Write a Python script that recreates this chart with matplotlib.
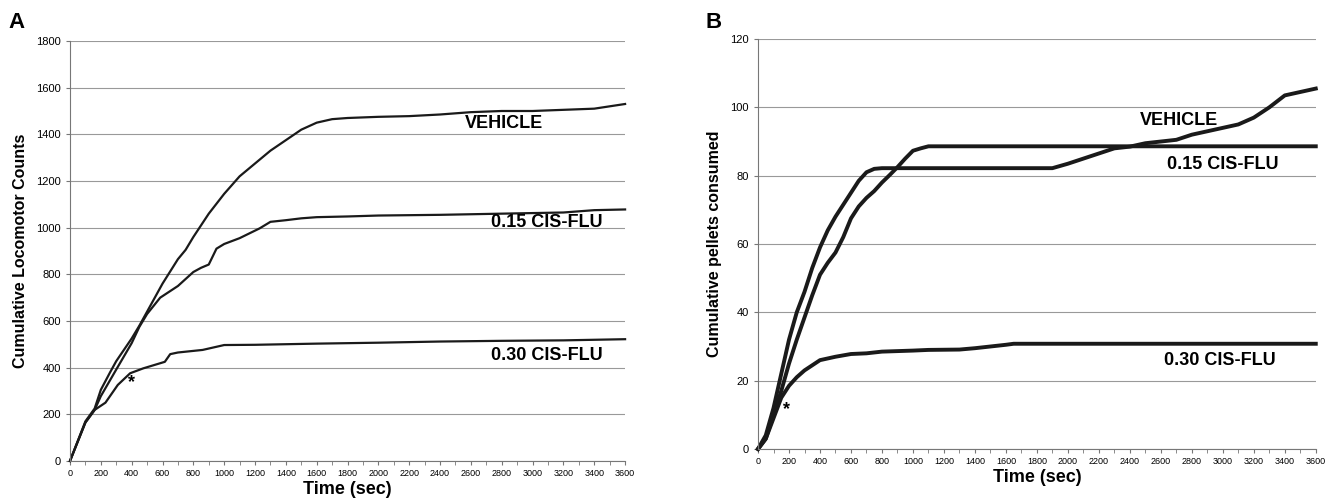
import matplotlib.pyplot as plt
from matplotlib.ticker import MultipleLocator

plt.rcParams['font.family'] = ['Liberation Sans', 'DejaVu Sans']

# Panel A: cumulative locomotor counts
a_veh_t = [0, 100, 160, 200, 260, 300, 400, 450, 500, 600, 700, 750, 800, 850, 900, 1000,
           1100, 1200, 1300, 1400, 1500, 1600, 1700, 1800, 2000, 2200, 2400, 2600, 2800,
           3000, 3200, 3400, 3600]
a_veh = [0, 170, 225, 305, 380, 428, 525, 580, 640, 760, 865, 905, 960, 1010, 1060, 1145,
         1220, 1275, 1330, 1375, 1420, 1450, 1465, 1470, 1475, 1478, 1485, 1495, 1500,
         1500, 1505, 1510, 1530]

a_015_t = [0, 100, 160, 200, 300, 400, 450, 500, 585, 700, 800, 850, 900, 950, 1000, 1100,
           1230, 1300, 1400, 1500, 1600, 1800, 2000, 2400, 2800, 3200, 3400, 3600]
a_015 = [0, 165, 219, 278, 392, 505, 575, 630, 700, 750, 810, 828, 842, 910, 930, 955,
         997, 1025, 1032, 1040, 1045, 1048, 1052, 1055, 1060, 1065, 1075, 1078]

a_030_t = [0, 100, 160, 230, 310, 390, 475, 615, 650, 700, 860, 1000, 1200, 1600, 2000,
           2400, 2800, 3200, 3600]
a_030 = [0, 165, 219, 250, 326, 376, 397, 425, 458, 465, 476, 497, 498, 503, 507,
         512, 515, 517, 522]

# Panel B: cumulative pellets consumed
b_veh_t = [0, 50, 100, 150, 200, 250, 300, 350, 400, 450, 500, 550, 600, 650, 700, 750,
           800, 1000, 1900, 2000, 2100, 2200, 2300, 2400, 2500, 2600, 2700, 2800, 2900,
           3000, 3100, 3200, 3300, 3400, 3500, 3600]
b_veh = [0, 4, 12, 22, 32, 40, 46, 53, 59, 64, 68, 71.5, 75, 78.5, 81, 82,
         82.2, 82.2, 82.2, 83.5, 85, 86.5, 88, 88.5, 89.5, 90, 90.5, 92, 93,
         94, 95, 97, 100, 103.5, 104.5, 105.5]

b_015_t = [0, 50, 100, 150, 200, 250, 300, 350, 400, 450, 500, 550, 600, 650, 700,
           750, 800, 850, 900, 950, 1000, 1050, 1100, 3600]
b_015 = [0, 3, 10, 17, 25, 32, 38.5, 45, 51, 54.5, 57.5, 62, 67.5, 71, 73.5,
         75.5, 78, 80.2, 82.5, 85, 87.3, 88, 88.6, 88.6]

b_030_t = [0, 50, 100, 150, 200, 250, 300, 350, 400, 450, 500, 600, 700, 800, 1000,
           1100, 1300, 1400, 1500, 1600, 1650, 3600]
b_030 = [0, 3, 9, 15, 18.5, 21, 23, 24.5, 26, 26.5, 27, 27.8, 28, 28.5, 28.8,
         29, 29.1, 29.5, 30, 30.5, 30.8, 30.8]

labels = ['VEHICLE', '0.15 CIS-FLU', '0.30 CIS-FLU']


def style_axes(ax, ymax, ystep, ylabel):
    ax.set_xlim(0, 3600)
    ax.set_ylim(0, ymax)
    ax.xaxis.set_major_locator(MultipleLocator(200))
    ax.xaxis.set_minor_locator(MultipleLocator(100))
    ax.yaxis.set_major_locator(MultipleLocator(ystep))
    ax.grid(axis='y', color='#999999', linewidth=0.8)
    ax.set_axisbelow(True)
    for s in ['top', 'right']:
        ax.spines[s].set_visible(False)
    for s in ['left', 'bottom']:
        ax.spines[s].set_color('#777777')
        ax.spines[s].set_linewidth(0.8)
    ax.tick_params(axis='x', labelsize=6.5, length=3, color='#777777', pad=3)
    ax.tick_params(axis='x', which='minor', length=3, color='#777777')
    ax.tick_params(axis='y', labelsize=8, length=3, color='#777777')
    ax.set_xlabel('Time (sec)', fontsize=13, fontweight='bold', labelpad=2)
    ax.set_ylabel(ylabel, fontsize=11.5, fontweight='bold', labelpad=6)


fig = plt.figure(figsize=(13.28, 5.03), dpi=100)

# --- Panel A
ax1 = fig.add_axes([0.0527, 0.0835, 0.418, 0.835])
for t, y in [(a_veh_t, a_veh), (a_015_t, a_015), (a_030_t, a_030)]:
    ax1.plot(t, y, color='#1a1a1a', linewidth=1.6, clip_on=False)
style_axes(ax1, 1800, 200, 'Cumulative Locomotor Counts')
for txt, x, y in zip(labels, [2812, 3090, 3090], [1446, 1022, 452]):
    ax1.text(x, y, txt, ha='center', va='center', fontsize=13, fontweight='bold')
ax1.text(400, 335, '*', ha='center', va='center', fontsize=13, fontweight='bold')
fig.text(0.006, 0.955, 'A', fontsize=16, fontweight='bold', va='center')

# --- Panel B
ax2 = fig.add_axes([0.5708, 0.1074, 0.420, 0.815])
for t, y in [(b_veh_t, b_veh), (b_015_t, b_015), (b_030_t, b_030)]:
    ax2.plot(t, y, color='#1a1a1a', linewidth=2.8, clip_on=False)
style_axes(ax2, 120, 20, 'Cumulative pellets consumed')
for txt, x, y in zip(labels, [2714, 2997, 2981], [96.2, 83.4, 25.9]):
    ax2.text(x, y, txt, ha='center', va='center', fontsize=13, fontweight='bold')
ax2.text(185, 11.5, '*', ha='center', va='center', fontsize=13, fontweight='bold')
fig.text(0.531, 0.955, 'B', fontsize=16, fontweight='bold', va='center')

fig.savefig('out.png', dpi=100)
